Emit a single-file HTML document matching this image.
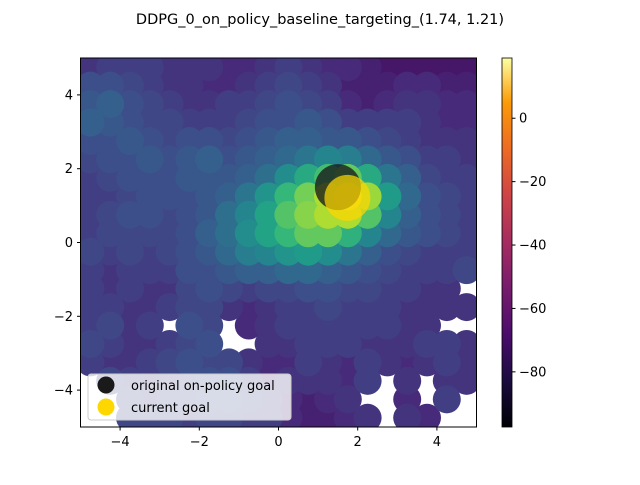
<!DOCTYPE html>
<html><head><meta charset="utf-8"><style>
body{margin:0;background:#fff;font-family:"Liberation Sans","DejaVu Sans",sans-serif}
svg text{font-family:"DejaVu Sans","Liberation Sans",sans-serif}
</style></head><body>
<svg id="chart" width="640" height="480">
<defs>
<clipPath id="plotclip"><rect x="80.5" y="58" width="396" height="369"/></clipPath>
<linearGradient id="inferno" x1="0" y1="1" x2="0" y2="0">
<stop offset="0" stop-color="#000004"/><stop offset="0.13" stop-color="#1b0c41"/>
<stop offset="0.25" stop-color="#4a0c6b"/><stop offset="0.38" stop-color="#781c6d"/>
<stop offset="0.5" stop-color="#a52c60"/><stop offset="0.63" stop-color="#cf4446"/>
<stop offset="0.75" stop-color="#ed6925"/><stop offset="0.88" stop-color="#fb9b06"/>
<stop offset="1" stop-color="#fcffa4"/></linearGradient>
</defs>
<text x="320" y="24" text-anchor="middle" font-size="14.5">DDPG_0_on_policy_baseline_targeting_(1.74, 1.21)</text>
<g id="cells" clip-path="url(#plotclip)"></g>
<g id="goals" clip-path="url(#plotclip)"></g>
<rect x="80.5" y="58" width="396" height="369" fill="none" stroke="#000" stroke-width="1"/>
<g id="axes"></g>
<g>
<rect x="88" y="374" width="203" height="46" rx="3" fill="#fff" fill-opacity="0.8" stroke="#ccc"/>
<circle cx="106" cy="385" r="8.5" fill="#1a1a1a"/>
<text x="131" y="390" font-size="13">original on-policy goal</text>
<circle cx="106" cy="407" r="8.5" fill="#ffd700"/>
<text x="131" y="412" font-size="13">current goal</text>
</g>
<rect x="502" y="58" width="10" height="369" fill="url(#inferno)" stroke="#000" stroke-width="0.8"/>
<g id="cbticks"></g>
</svg>
<script>
const xTicks=[-4,-2,0,2,4];
const yTicks=[-4,-2,0,2,4];
const cbTicks=[0,-20,-40,-60,-80];
const cbMin=-97.4, cbMax=19;
const gridX=[-4.75,-4.25,-3.75,-3.25,-2.75,-2.25,-1.75,-1.25,-0.75,-0.25,0.25,0.75,1.25,1.75,2.25,2.75,3.25,3.75,4.25,4.75];
const gridY=[4.75,4.25,3.75,3.25,2.75,2.25,1.75,1.25,0.75,0.25,-0.25,-0.75,-1.25,-1.75,-2.25,-2.75,-3.25,-3.75,-4.25,-4.75];
const N=null;
const rewards=[
[-68,-66,-66,-66,-68,-68,-68,-70,-70,-68,-66,-68,-70,-70,-72,-74,-74,-74,-74,-74],
[-62,-62,-64,-66,-68,-68,-70,-70,-68,-66,-64,-66,-68,-72,-72,-72,-70,-70,-72,-72],
[-60,-58,-62,-64,-66,-68,-68,-66,-66,-64,-62,-64,-66,-70,-72,-70,-68,-68,-70,-70],
[-58,-60,-62,-64,-64,-66,-66,-66,-64,-62,-62,-60,-62,-66,-66,-66,-66,-68,-70,-70],
[-62,-62,-60,-62,-64,-62,-62,-64,-62,-60,-58,-58,-60,-60,-62,-64,-66,-68,-68,-68],
[-64,-62,-62,-60,-62,-60,-58,-62,-60,-58,-56,-52,-48,-50,-56,-60,-62,-66,-66,-68],
[-66,-64,-62,-62,-62,-60,-60,-60,-58,-54,-46,-38,-32,-28,-38,-52,-58,-64,-66,-66],
[-66,-66,-64,-62,-62,-62,-60,-58,-52,-44,-34,-26,-20,-15,-22,-42,-56,-62,-64,-66],
[-66,-64,-62,-62,-64,-62,-60,-54,-48,-40,-30,-24,-20,-20,-30,-48,-58,-62,-64,-66],
[-66,-64,-64,-64,-64,-62,-58,-54,-46,-40,-34,-28,-28,-36,-48,-56,-60,-62,-64,-66],
[-64,-66,-64,-66,-64,-62,-60,-56,-50,-48,-44,-42,-46,-52,-58,-62,-64,-66,-66,-66],
[-66,-68,-66,-66,-66,-62,-62,-60,-58,-58,-56,-56,-58,-60,-62,-64,-66,-66,-66,-64],
[-66,-68,-66,-68,-68,-64,-62,-64,-66,-64,-64,-62,-62,-64,-64,-66,-66,-68,-68,N],
[-66,-66,-68,-68,-66,-64,-64,-68,-70,-68,-66,-66,-64,-66,-66,-66,-68,-68,-68,-68],
[-66,-64,-68,-66,N,-62,-64,N,-70,-68,-66,-66,-66,-66,-66,-66,-68,-68,N,N],
[-64,-66,-68,-68,-66,-64,-62,N,N,-68,-68,-66,-66,-66,-68,-68,-68,-66,-66,-68],
[-66,-68,-68,-66,-64,-62,-64,-64,-68,-70,-70,-66,-68,-70,-66,-68,-70,-68,-66,-68],
[N,-64,-66,-68,-66,-64,-62,-62,-66,-70,-68,-68,-68,-70,-66,N,-68,N,-68,-68],
[N,N,-64,-66,-64,-64,-62,-62,-64,-66,-70,-72,-70,-68,N,N,-70,N,-66,N],
[N,N,-64,-64,-64,-66,-64,-64,-66,-66,-70,-72,-72,-70,-68,N,-68,-70,N,N]
];
const originalGoal=[1.5,1.5];
const currentGoal=[1.74,1.21];

const NS="http://www.w3.org/2000/svg";
function sx(v){return 80.5+(v+5)*39.6;}
function sy(v){return 242.5-v*36.9;}
function cy(v){return 58+(cbMax-v)/(cbMax-cbMin)*369;}
const vir=[[68,1,84],[72,40,120],[62,74,137],[49,104,142],[38,130,142],[31,158,137],[53,183,121],[109,205,89],[180,222,44],[253,231,37]];
function viridis(t){t=Math.max(0,Math.min(1,t));const f=t*(vir.length-1),i=Math.min(vir.length-2,Math.floor(f)),u=f-i;
const c=vir[i].map((a,k)=>Math.round(a+(vir[i+1][k]-a)*u));return `rgb(${c[0]},${c[1]},${c[2]})`;}
function mk(tag,attrs,parent){const e=document.createElementNS(NS,tag);for(const k in attrs)e.setAttribute(k,attrs[k]);parent.appendChild(e);return e;}
const cells=document.getElementById('cells');
const order=[];
rewards.forEach((row,r)=>row.forEach((v,c)=>{if(v!==null)order.push([r,c,v]);}));
order.sort((a,b)=>a[2]-b[2]);
order.forEach(([r,c,v])=>{
  const e=mk('circle',{cx:sx(gridX[c]),cy:sy(gridY[r]),r:14,fill:viridis((v+78)/66)},cells);
  
  
});
const goals=document.getElementById('goals');
const g1=mk('circle',{cx:sx(originalGoal[0]),cy:sy(originalGoal[1]),r:23,fill:'#1a1a1a','fill-opacity':0.78},goals);


const g2=mk('circle',{cx:sx(currentGoal[0]),cy:sy(currentGoal[1]),r:23,fill:'#ffd700','fill-opacity':0.72},goals);


const axes=document.getElementById('axes');
xTicks.forEach(t=>{const x=sx(t);
  mk('line',{x1:x,x2:x,y1:427,y2:430.5,stroke:'#000'},axes);
  const tx=mk('text',{x:x,y:446,'text-anchor':'middle','font-size':13},axes);tx.textContent=(t<0?'\u2212'+(-t):t);
  
  
});
yTicks.forEach(t=>{const y=sy(t);
  mk('line',{x1:77,x2:80.5,y1:y,y2:y,stroke:'#000'},axes);
  const tx=mk('text',{x:73,y:y+4.5,'text-anchor':'end','font-size':13},axes);tx.textContent=(t<0?'\u2212'+(-t):t);
  
  
});
const cbg=document.getElementById('cbticks');
cbTicks.forEach(t=>{const y=cy(t);
  mk('line',{x1:512,x2:515.5,y1:y,y2:y,stroke:'#000'},cbg);
  const tx=mk('text',{x:519,y:y+4.5,'font-size':13},cbg);tx.textContent=(t<0?'\u2212'+(-t):t);
  
  
});
</script>
</body></html>
